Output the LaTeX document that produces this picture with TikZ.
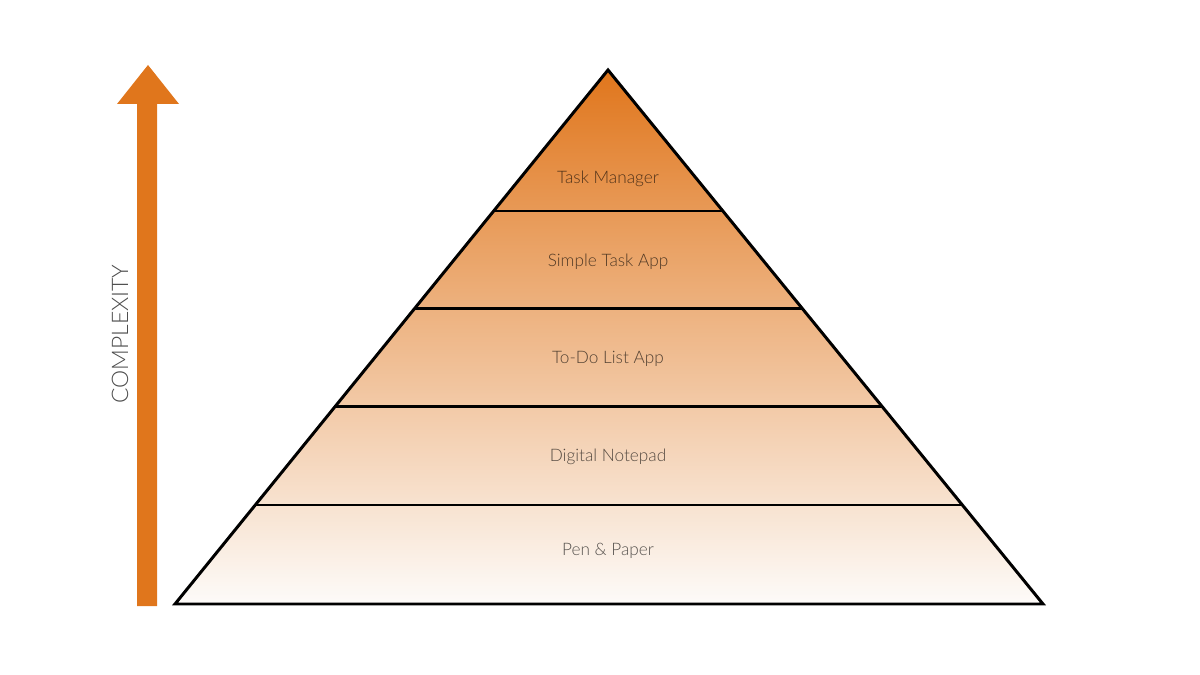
\documentclass[tikz,border=0pt]{standalone}
\usepackage{fontspec}
\setmainfont{Lato}[UprightFont=* Light]
\definecolor{porange}{RGB}{224,118,28}
\definecolor{pwhite}{RGB}{253,251,249}
\begin{document}
\begin{tikzpicture}[x=0.02cm,y=-0.02cm,
  lvl/.style={font=\fontsize{9.8pt}{11pt}\selectfont, text=black, text opacity=0.65},
  edge/.style={line width=1.7pt, black, line join=miter},
]
\useasboundingbox (0,0) rectangle (1200,675);
% arrow
\fill[porange] (137,606) -- (137,104) -- (117,104) -- (148,65) -- (179,104) -- (157,104) -- (157,606) -- cycle;
\node[rotate=90, font=\fontsize{13pt}{14pt}\selectfont, text=black, text opacity=0.7] (cx) at (120,334) {COMPLEXITY};
% pyramid
\coordinate (apex) at (608,70);
\coordinate (bl) at (175,604);
\coordinate (br) at (1043,604);
\shade[top color=porange, bottom color=pwhite] (apex) -- (bl) -- (br) -- cycle;
\foreach \y/\n in {211/a,309/b,407/c,505/d}{
  \path (apex) -- (bl) coordinate[pos={(\y-70)/534}] (l\n);
  \path (apex) -- (br) coordinate[pos={(\y-70)/534}] (r\n);
  \draw[edge] (l\n) -- (r\n);
}
\draw[edge] (apex) -- (bl) -- (br) -- cycle;
\node[lvl] (t1) at (608,179) {Task Manager};
\node[lvl] (t2) at (608,262) {Simple Task App};
\node[lvl] (t3) at (608,359) {To-Do List App};
\node[lvl] (t4) at (608,457) {Digital Notepad};
\node[lvl] (t5) at (608,551) {Pen \& Paper};
\end{tikzpicture}
\end{document}
